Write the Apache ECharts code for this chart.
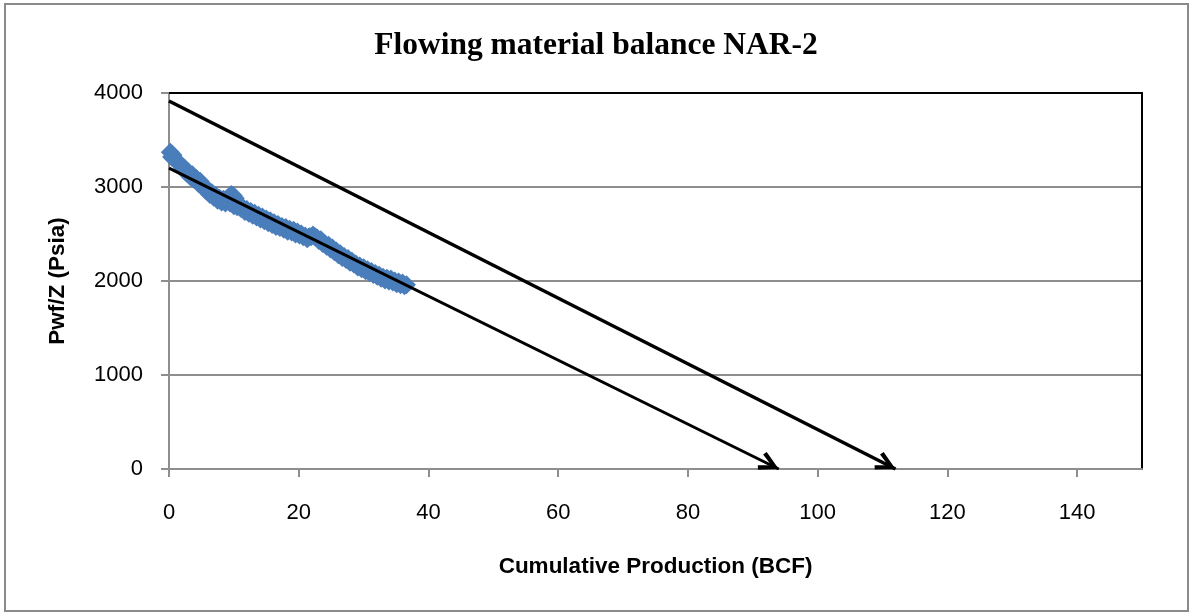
<!DOCTYPE html>
<html>
<head>
<meta charset="utf-8">
<title>Flowing material balance NAR-2</title>
<script src="https://cdn.jsdelivr.net/npm/echarts@6/dist/echarts.min.js"></script>
<style>
  html, body { margin: 0; padding: 0; background: #fff; }
  #chart { width: 1192px; height: 614px; }
</style>
</head>
<body>
<div id="chart"></div>
<script>
// Cumulative production (BCF) and flowing Pwf/Z (psia) readings
const cumProd = [
  0.2, 0.4, 0.6, 0.9, 1.2, 1.5, 1.8, 2.1, 2.4, 2.7, 3.0, 3.3, 3.6, 3.9, 4.2, 4.5, 4.8, 5.1, 5.4, 5.7,
  6.0, 6.3, 6.6, 6.9, 7.2, 7.5, 7.8, 8.1, 8.4, 8.7, 9.0, 9.3, 9.4, 9.6, 9.9, 10.0, 10.2, 10.5, 10.8, 11.1,
  11.4, 11.7, 12.0, 12.3, 12.6, 12.9, 13.2, 13.5, 13.8, 14.1, 14.4, 14.7, 15.0, 15.3, 15.6, 15.9, 16.2, 16.5, 16.8, 17.1,
  17.4, 17.7, 18.0, 18.3, 18.6, 18.9, 19.2, 19.5, 19.8, 20.1, 20.4, 20.7, 21.0, 21.3, 21.6, 21.9, 22.2, 22.5, 22.8, 23.1,
  23.4, 23.7, 24.0, 24.3, 24.6, 24.9, 25.2, 25.5, 25.8, 26.1, 26.4, 26.7, 27.0, 27.3, 27.6, 27.9, 28.2, 28.5, 28.8, 29.1,
  29.4, 29.7, 30.0, 30.3, 30.6, 30.9, 31.2, 31.5, 31.8, 32.1, 32.4, 32.7, 33.0, 33.3, 33.6, 33.9, 34.2, 34.5, 34.8, 35.1,
  35.4, 35.7, 36.0, 36.3, 36.6
];
const pwfOverZ = [
  3370, 3320, 3340, 3290, 3280, 3250, 3240, 3200, 3200, 3150, 3160, 3110, 3130, 3080, 3090, 3040, 3060, 3010, 3010, 2960,
  2970, 2920, 2940, 2890, 2910, 2860, 2880, 2840, 2870, 2830, 2880, 2900, 2830, 2920, 2910, 2800, 2880, 2790, 2820, 2770,
  2780, 2740, 2760, 2720, 2740, 2700, 2720, 2680, 2700, 2660, 2680, 2640, 2660, 2620, 2640, 2600, 2620, 2580, 2600, 2570,
  2580, 2550, 2570, 2530, 2550, 2520, 2540, 2500, 2520, 2490, 2500, 2470, 2480, 2450, 2470, 2470, 2490, 2470, 2460, 2430,
  2440, 2400, 2400, 2370, 2380, 2340, 2350, 2310, 2320, 2280, 2290, 2250, 2260, 2230, 2240, 2200, 2210, 2180, 2180, 2150,
  2160, 2130, 2140, 2110, 2120, 2090, 2100, 2070, 2080, 2050, 2060, 2030, 2040, 2010, 2030, 2000, 2020, 1990, 2000, 1970,
  1990, 1960, 1980, 1950, 1960
];

// Straight-line extrapolations to Pwf/Z = 0 (start point, end point)
const upperTrend = [[0, 3915], [112, 0]];
const lowerTrend = [[0, 3200], [94, 0]];

// Axis ticks
const xTicks = [0, 20, 40, 60, 80, 100, 120, 140];
const yTicks = [0, 1000, 2000, 3000, 4000];

const points = cumProd.map((x, i) => [x, pwfOverZ[i]]);

// Open chevron arrowhead; the tip sits at the path's centre so it lands on the end point
const arrowHead = 'path://M0,0 L6.6,12.2 L4,13.6 L0,5.5 L-4,13.6 L-6.6,12.2 Z M-18,-18 L18,18 Z';

const gridGray = '#8e8e8e';
const labelFont = 'Liberation Sans';
const nameFont = '"Liberation Sans", sans-serif';

const chart = echarts.init(document.getElementById('chart'), null, { renderer: 'canvas' });

chart.setOption({
  animation: false,
  backgroundColor: '#ffffff',
  title: {
    text: 'Flowing material balance NAR-2',
    left: 'center',
    top: 25,
    textStyle: {
      fontFamily: '"Liberation Serif", serif',
      fontWeight: 'bold',
      fontSize: 31.5,
      color: '#000'
    }
  },
  graphic: [{
    type: 'rect',
    silent: true,
    shape: { x: 5, y: 4, width: 1183, height: 607 },
    style: { fill: 'none', stroke: '#8a8a8a', lineWidth: 2 }
  }],
  grid: { left: 169, right: 50, top: 93, bottom: 145, containLabel: false },
  xAxis: [{
    type: 'value',
    min: 0,
    max: 150,
    interval: 20,
    position: 'bottom',
    name: 'Cumulative Production (BCF)',
    nameLocation: 'middle',
    nameGap: 86,
    nameMoveOverlap: false,
    nameTextStyle: { fontFamily: nameFont, fontWeight: 'bold', fontSize: 22.5, color: '#000' },
    axisLine: { show: true, onZero: false, lineStyle: { color: gridGray, width: 2 } },
    axisTick: { show: true, length: 8, customValues: xTicks, lineStyle: { color: gridGray, width: 2 } },
    axisLabel: { margin: 33, customValues: xTicks, formatter: v => String(v), fontFamily: labelFont, fontSize: 22, color: '#000' },
    splitLine: { show: false }
  }, {
    type: 'value',
    min: 0,
    max: 150,
    position: 'top',
    axisLine: { show: true, onZero: false, lineStyle: { color: '#000', width: 2 } },
    axisTick: { show: false },
    axisLabel: { show: false },
    splitLine: { show: false }
  }],
  yAxis: [{
    type: 'value',
    min: 0,
    max: 4000,
    interval: 1000,
    position: 'left',
    name: 'Pwf/Z (Psia)',
    nameLocation: 'middle',
    nameGap: 100,
    nameMoveOverlap: false,
    nameTextStyle: { fontFamily: nameFont, fontWeight: 'bold', fontSize: 22.5, color: '#000' },
    axisLine: { show: true, onZero: false, lineStyle: { color: gridGray, width: 2 } },
    axisTick: { show: true, length: 8, customValues: yTicks, lineStyle: { color: gridGray, width: 2 } },
    axisLabel: { margin: 26, customValues: yTicks, formatter: v => String(v), fontFamily: labelFont, fontSize: 22, color: '#000' },
    splitLine: { show: true, lineStyle: { color: gridGray, width: 2 } }
  }, {
    type: 'value',
    min: 0,
    max: 4000,
    position: 'right',
    axisLine: { show: true, onZero: false, lineStyle: { color: '#000', width: 2 } },
    axisTick: { show: false },
    axisLabel: { show: false },
    splitLine: { show: false }
  }],
  series: [{
    name: 'Pwf/Z',
    type: 'scatter',
    xAxisIndex: 0,
    yAxisIndex: 0,
    symbol: 'diamond',
    symbolSize: 19,
    itemStyle: { color: '#4A7EBB', opacity: 1 },
    data: points,
    z: 2
  }, {
    name: 'Upper trend',
    type: 'lines',
    coordinateSystem: 'cartesian2d',
    xAxisIndex: 0,
    yAxisIndex: 0,
    symbol: ['none', arrowHead],
    symbolSize: [1, 54],
    lineStyle: { color: '#000', width: 3.5, opacity: 1 },
    data: [{ coords: upperTrend }],
    z: 5
  }, {
    name: 'Lower trend',
    type: 'lines',
    coordinateSystem: 'cartesian2d',
    xAxisIndex: 0,
    yAxisIndex: 0,
    symbol: ['none', arrowHead],
    symbolSize: [1, 54],
    lineStyle: { color: '#000', width: 3, opacity: 1 },
    data: [{ coords: lowerTrend }],
    z: 5
  }]
});
</script>
</body>
</html>
